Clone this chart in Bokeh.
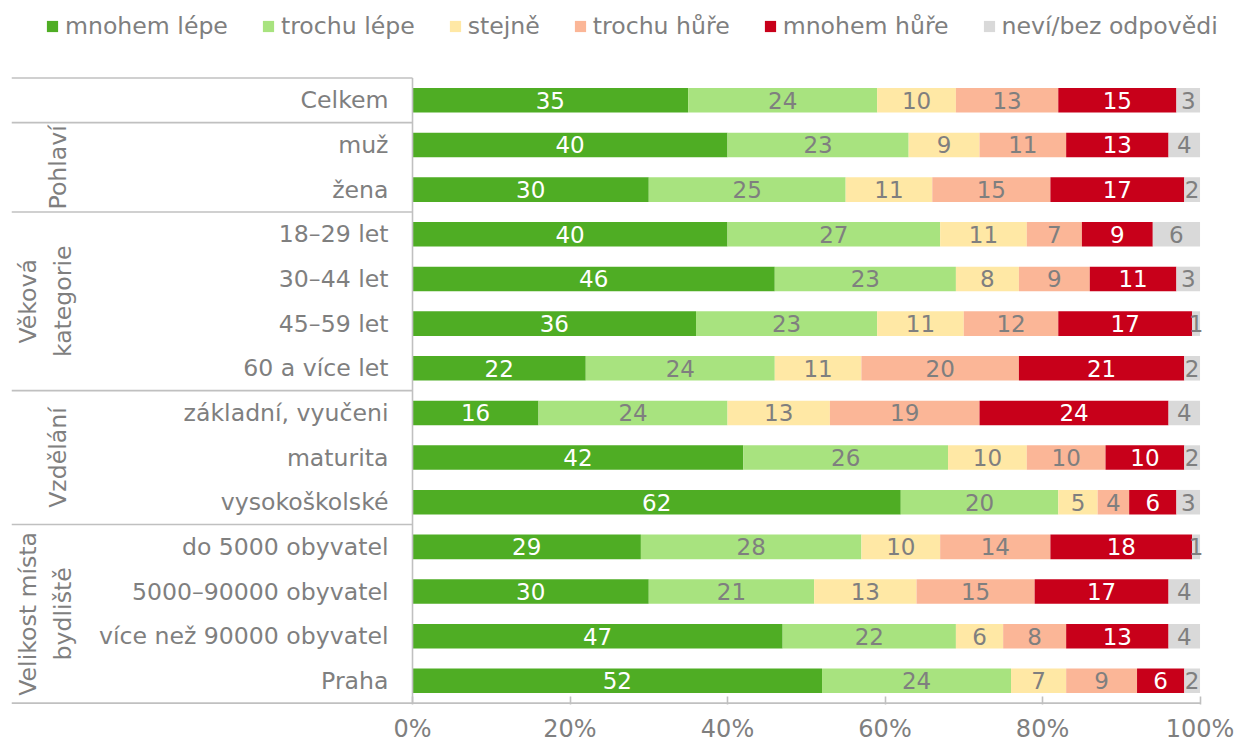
import math
from bokeh.plotting import figure
from bokeh.models import ColumnDataSource, Range1d, FixedTicker, Legend, LegendItem
from bokeh.core.properties import value
from bokeh.embed import file_html
from bokeh.resources import INLINE

# ---------------- data ----------------
categories = ["Celkem", "muž", "žena", "18–29 let", "30–44 let", "45–59 let",
              "60 a více let", "základní, vyučeni", "maturita", "vysokoškolské",
              "do 5000 obyvatel", "5000–90000 obyvatel", "více než 90000 obyvatel", "Praha"]
series_names = ["mnohem lépe", "trochu lépe", "stejně", "trochu hůře", "mnohem hůře", "neví/bez odpovědi"]
mnohem_lepe = [35, 40, 30, 40, 46, 36, 22, 16, 42, 62, 29, 30, 47, 52]
trochu_lepe = [24, 23, 25, 27, 23, 23, 24, 24, 26, 20, 28, 21, 22, 24]
stejne      = [10, 9, 11, 11, 8, 11, 11, 13, 10, 5, 10, 13, 6, 7]
trochu_hure = [13, 11, 15, 7, 9, 12, 20, 19, 10, 4, 14, 15, 8, 9]
mnohem_hure = [15, 13, 17, 9, 11, 17, 21, 24, 10, 6, 18, 17, 13, 6]
nevi        = [3, 4, 2, 6, 3, 1, 2, 4, 2, 3, 1, 4, 4, 2]
group_names = ["Pohlaví", "Věková\nkategorie", "Vzdělání", "Velikost místa\nbydliště"]
group_first = [1, 3, 7, 10]
group_last = [2, 6, 9, 13]
tick_values = [0, 20, 40, 60, 80, 100]
tick_labels = ["0%", "20%", "40%", "60%", "80%", "100%"]

# ---------------- style ----------------
colors = ["#4FAD24", "#A8E37F", "#FFE8A5", "#FBB697", "#C8001A", "#D9D9D9"]
label_colors = ["white", "#7F7F7F", "#7F7F7F", "#7F7F7F", "white", "#7F7F7F"]
TEXT = "#7F7F7F"
LINE = "#C0C0C0"
FONT = "DejaVu Sans"
FS = "23.6px"

series = [mnohem_lepe, trochu_lepe, stejne, trochu_hure, mnohem_hure, nevi]
keys = ["s%d" % i for i in range(len(series))]
ys = list(range(len(categories)))
n = len(categories)

data = {"y": ys, "cat": categories}
for k, s in zip(keys, series):
    data[k] = s
source = ColumnDataSource(data)

X_LEFT = -50.92   # label area to the left of 0 %
X_RIGHT = 104.63  # room right of 100 % for the legend
Y_TOP = -2.236    # room above the first row for the legend

p = figure(width=1236, height=745, output_backend="svg", toolbar_location=None,
           x_range=Range1d(X_LEFT, X_RIGHT), y_range=Range1d(n - 0.47, Y_TOP),
           y_axis_location=None, min_border_left=11, min_border_right=0,
           min_border_top=0, min_border_bottom=41)
p.outline_line_color = None
p.xgrid.visible = False
p.ygrid.visible = False
p.background_fill_color = "white"

rends = p.hbar_stack(keys, y="y", height=0.55, color=colors, line_color=None, source=source)

# segment value labels
lx, ly, lt, lc = [], [], [], []
for i in range(n):
    left = 0
    for j, s in enumerate(series):
        v = s[i]
        lx.append(left + v / 2)
        ly.append(i)
        lt.append(str(v))
        lc.append(label_colors[j])
        left += v
lab_src = ColumnDataSource(dict(x=lx, y=ly, t=lt, c=lc))
p.text(x="x", y="y", text="t", text_color="c", source=lab_src,
       text_align="center", text_baseline="middle",
       text_font=value(FONT), text_font_size="23px")

# category labels
p.text(x=-3.05, y="y", text="cat", source=source, text_align="right",
       text_baseline="middle", text_color=TEXT, text_font=value(FONT),
       text_font_size=FS)

# group labels (rotated)
gx = [-45.0 if "\n" not in g else -46.6 for g in group_names]
gy = [(a + b) / 2 for a, b in zip(group_first, group_last)]
p.text(x=gx, y=gy, text=group_names, angle=math.pi / 2, text_align="center",
       text_baseline="middle", text_color=TEXT, text_font=value(FONT),
       text_font_size=FS, text_line_height=1.25)

# separator lines in label area, category axis line and bottom axis line
sep_y = [-0.5, 0.5] + [b + 0.5 for b in group_last[:-1]]
p.segment(x0=[X_LEFT] * len(sep_y), x1=[0] * len(sep_y), y0=sep_y, y1=sep_y,
          line_color=LINE, line_width=1.6)
p.segment(x0=[0], x1=[0], y0=[-0.5], y1=[n - 0.5], line_color=LINE, line_width=1.6)
p.segment(x0=[X_LEFT], x1=[100], y0=[n - 0.5], y1=[n - 0.5], line_color=LINE, line_width=1.6)

# x axis (ticks and labels only)
ax = p.xaxis[0]
ax.ticker = FixedTicker(ticks=tick_values)
ax.major_label_overrides = {v: l for v, l in zip(tick_values, tick_labels)}
ax.axis_line_color = None
ax.major_tick_line_color = LINE
ax.major_tick_line_width = 1.6
ax.major_tick_in = 8
ax.major_tick_out = 0
ax.minor_tick_line_color = None
ax.major_label_standoff = 10
ax.major_label_text_font = FONT
ax.major_label_text_font_size = "24px"
ax.major_label_text_color = TEXT

# legend
items = [LegendItem(label=nm, renderers=[r]) for nm, r in zip(series_names, rends)]
legend = Legend(items=items, location=(34, 664), orientation="horizontal",
                glyph_width=14, glyph_height=14, label_standoff=6, spacing=33,
                padding=0, margin=0, border_line_color=None,
                background_fill_alpha=0, label_text_font=FONT,
                label_text_font_size=FS, label_text_color=TEXT)
p.add_layout(legend, "center")

open("out.html", "w").write(file_html(p, INLINE))
